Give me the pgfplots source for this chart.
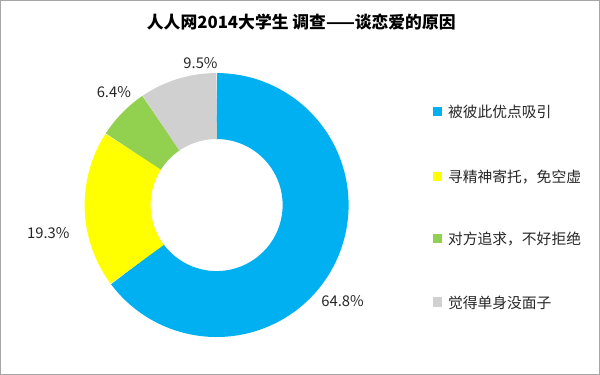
\documentclass[border=0pt]{standalone}
\usepackage{fontspec}
\setmainfont{Noto Sans CJK SC}
\usepackage{pgfplots}
\usepackage{pgfplotstable}
\pgfplotsset{compat=1.18}
\definecolor{cblue}{HTML}{00B0F0}
\definecolor{cyellow}{HTML}{FFFF00}
\definecolor{cgreen}{HTML}{92D050}
\definecolor{cgray}{HTML}{D0D0D0}
\definecolor{ctext}{HTML}{262626}
\pgfplotstableread{
value
64.8
19.3
6.4
9.5
}\piedata
\pgfplotstablegetelem{0}{value}\of\piedata \let\vA\pgfplotsretval
\pgfplotstablegetelem{1}{value}\of\piedata \let\vB\pgfplotsretval
\pgfplotstablegetelem{2}{value}\of\piedata \let\vC\pgfplotsretval
\pgfplotstablegetelem{3}{value}\of\piedata \let\vD\pgfplotsretval
\pgfmathsetmacro{\aA}{90}
\pgfmathsetmacro{\aB}{\aA-3.6*\vA}
\pgfmathsetmacro{\aC}{\aB-3.6*\vB}
\pgfmathsetmacro{\aD}{\aC-3.6*\vC}
\pgfmathsetmacro{\aE}{\aD-3.6*\vD}
\begin{document}
\begin{tikzpicture}
\begin{axis}[
  width=450pt, height=285pt, scale only axis,
  xmin=0, xmax=600, ymin=0, ymax=380,
  axis lines=none, ticks=none, clip=false,
]
% donut segments (thick arcs, butt caps give radial edges)
\addplot[cblue, line width=49.1pt, domain=\aB:\aA, samples=160] ({217+98.25*cos(x)},{175+98.25*sin(x)});
\addplot[cyellow, line width=49.1pt, domain=\aC:\aB, samples=60] ({217+98.25*cos(x)},{175+98.25*sin(x)});
\addplot[cgreen, line width=49.1pt, domain=\aD:\aC, samples=30] ({217+98.25*cos(x)},{175+98.25*sin(x)});
\addplot[cgray, line width=49.1pt, domain=\aE:\aD, samples=40] ({217+98.25*cos(x)},{175+98.25*sin(x)});
% percentage labels
\addplot[only marks, mark=none, nodes near coords, point meta=explicit symbolic,
  nodes near coords style={anchor=center, text=ctext, font=\fontsize{11}{13}\selectfont}]
  coordinates {(201,316) [9.5\%] (115,287) [6.4\%] (50,147) [19.3\%] (342,80) [64.8\%]};
% legend squares
\addplot[only marks, mark=square*, mark size=3pt, cblue] coordinates {(436,268)};
\addplot[only marks, mark=square*, mark size=3pt, cyellow] coordinates {(436,204)};
\addplot[only marks, mark=square*, mark size=3pt, cgreen] coordinates {(436,142)};
\addplot[only marks, mark=square*, mark size=3pt, cgray] coordinates {(436,79)};
\node[anchor=west, text=ctext, font=\fontsize{11}{13}\selectfont] at (axis cs:442,267) {被彼此优点吸引};
\node[anchor=west, text=ctext, font=\fontsize{11}{13}\selectfont] at (axis cs:442,203) {寻精神寄托，免空虚};
\node[anchor=west, text=ctext, font=\fontsize{11}{13}\selectfont] at (axis cs:442,141) {对方追求，不好拒绝};
\node[anchor=west, text=ctext, font=\fontsize{11}{13}\selectfont] at (axis cs:442,78) {觉得单身没面子};
% title
\node[font=\bfseries\fontsize{12.5}{15}\selectfont, text=black] at (axis cs:301,357) {人人网2014大学生 调查——谈恋爱的原因};
% frame
\draw[gray!70, line width=0.75pt] (axis cs:2.5,378) rectangle (axis cs:597,7);
\end{axis}
\end{tikzpicture}
\end{document}
